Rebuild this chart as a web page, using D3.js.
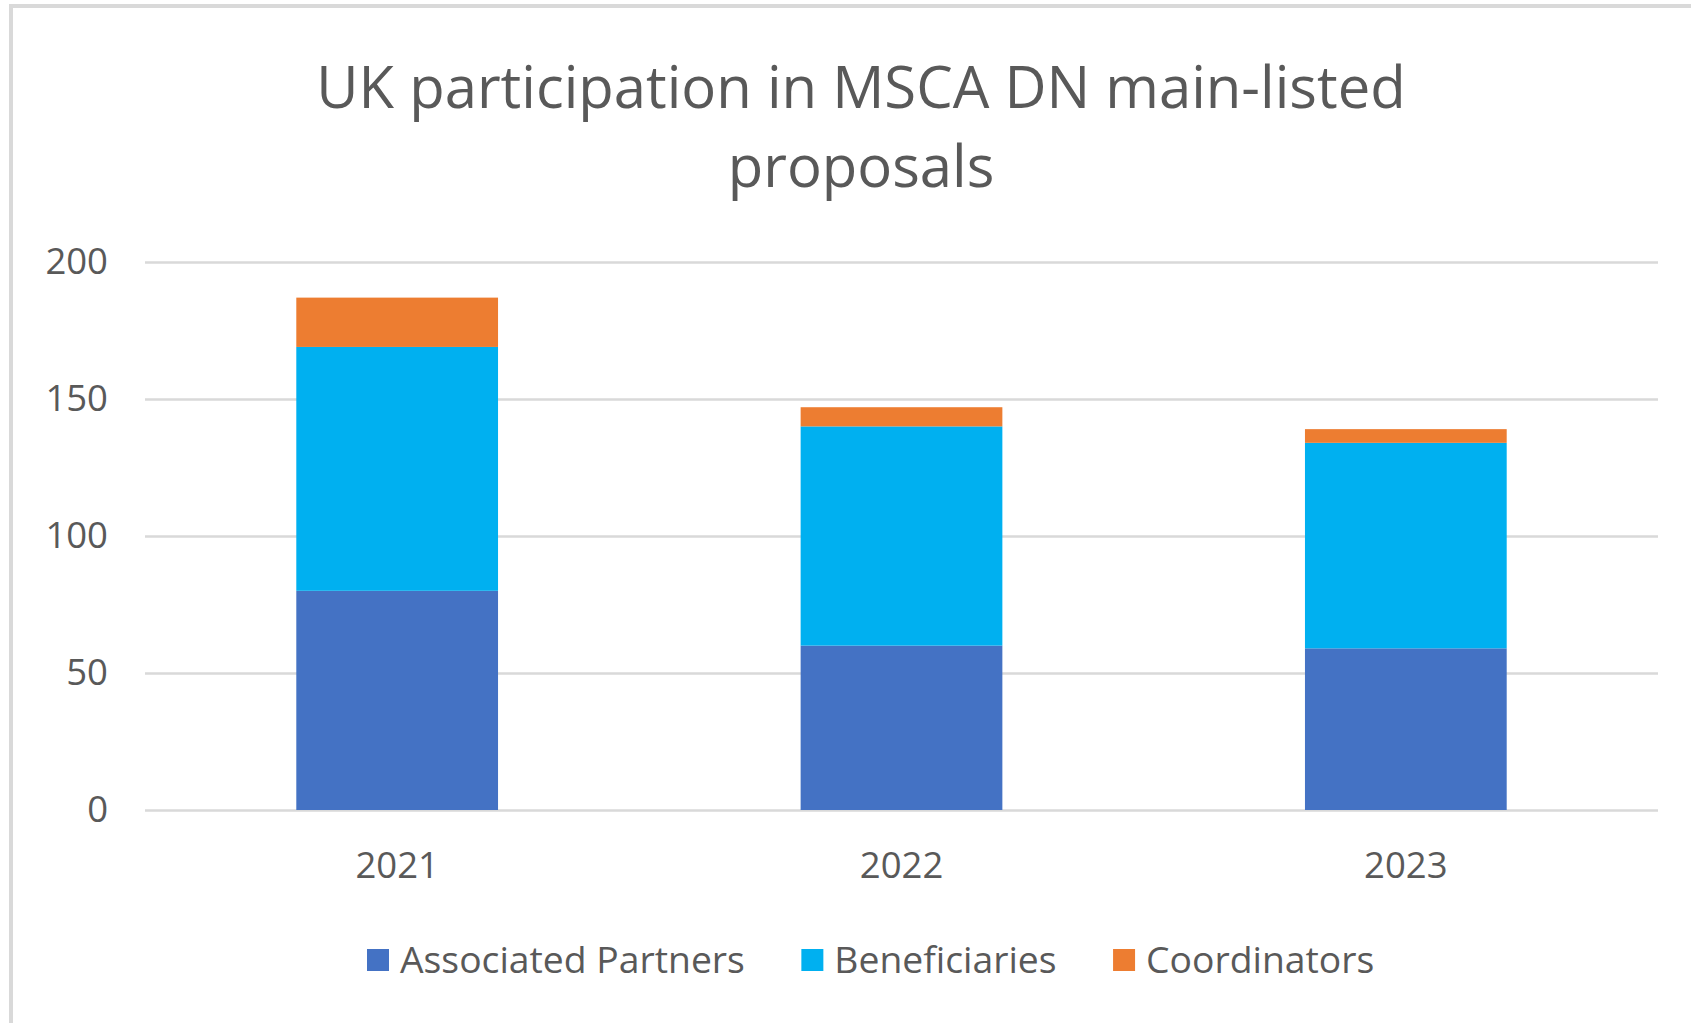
<!DOCTYPE html>
<html>
<head>
<meta charset="utf-8">
<script src="https://cdn.jsdelivr.net/npm/d3@7"></script>
<style>
  html, body { margin: 0; padding: 0; background: #ffffff; }
  svg { display: block; }
  text { font-family: "Open Sans", "Noto Sans", sans-serif; fill: #595959; }
</style>
</head>
<body>
<svg id="chart" width="1691" height="1023"></svg>
<script>
const categories = ["2021", "2022", "2023"];
const seriesNames = ["Associated Partners", "Beneficiaries", "Coordinators"];
const associatedPartners = [80, 60, 59];
const beneficiaries = [89, 80, 75];
const coordinators = [18, 7, 5];
const yTicks = [0, 50, 100, 150, 200];
const titleLines = ["UK participation in MSCA DN main-listed", "proposals"];
const colors = ["#4472C4", "#00B0F0", "#ED7D31"];

const svg = d3.select("#chart");
const W = 1691, H = 1023;

// chart border (cropped on right and bottom like reference)
svg.append("rect")
  .attr("x", 11).attr("y", 6)
  .attr("width", W + 20).attr("height", H + 20)
  .attr("fill", "#ffffff")
  .attr("stroke", "#D9D9D9").attr("stroke-width", 4);

const plot = { left: 145, right: 1658, top: 262, bottom: 810 };

const x = d3.scaleBand().domain(categories)
  .range([plot.left, plot.right]).paddingInner(0.6).paddingOuter(0.3);
const y = d3.scaleLinear().domain([0, 200]).range([plot.bottom, plot.top]);

// gridlines + y tick labels
const yAxis = d3.axisLeft(y).tickValues(yTicks).tickSize(-(plot.right - plot.left)).tickPadding(37).tickFormat(d3.format("d"));
const gy = svg.append("g").attr("transform", `translate(${plot.left},0)`).call(yAxis);
gy.select(".domain").remove();
gy.selectAll(".tick line").attr("stroke", "#D9D9D9").attr("stroke-width", 2.5);
gy.selectAll(".tick text")
  .attr("font-size", 36.5).attr("fill", "#595959")
  .style("font-family", '"Open Sans", sans-serif');

// stacked data
const table = categories.map((c, i) => ({
  cat: c,
  "Associated Partners": associatedPartners[i],
  "Beneficiaries": beneficiaries[i],
  "Coordinators": coordinators[i]
}));
const stacked = d3.stack().keys(seriesNames)(table);

svg.append("g").selectAll("g").data(stacked).join("g")
  .attr("fill", (d, i) => colors[i])
  .selectAll("rect").data(d => d).join("rect")
  .attr("x", d => x(d.data.cat))
  .attr("width", x.bandwidth())
  .attr("y", d => y(d[1]))
  .attr("height", d => y(d[0]) - y(d[1]));

// x axis labels
const xAxis = d3.axisBottom(x).tickSize(0).tickPadding(42);
const gx = svg.append("g").attr("transform", `translate(0,${plot.bottom})`).call(xAxis);
gx.select(".domain").remove();
gx.selectAll(".tick text")
  .attr("font-size", 36.5).attr("fill", "#595959")
  .style("font-family", '"Open Sans", sans-serif');

// title
const title = svg.append("text")
  .attr("text-anchor", "middle")
  .attr("font-size", 58)
  .attr("fill", "#595959");
titleLines.forEach((t, i) => {
  title.append("tspan").attr("x", 861).attr("y", 108 + i * 79).text(t);
});

// legend
const legend = svg.append("g");
const sq = 22, gapText = 11, gapItem = 56.5, legendY = 960;
let cx = 367;
seriesNames.forEach((name, i) => {
  legend.append("rect")
    .attr("x", cx).attr("y", legendY - sq / 2)
    .attr("width", sq).attr("height", sq)
    .attr("fill", colors[i]);
  const t = legend.append("text")
    .attr("x", cx + sq + gapText).attr("y", legendY)
    .attr("dy", "0.35em")
    .attr("font-size", 37.3)
    .text(name);
  cx += sq + gapText + t.node().getComputedTextLength() + gapItem;
});
</script>
</body>
</html>
